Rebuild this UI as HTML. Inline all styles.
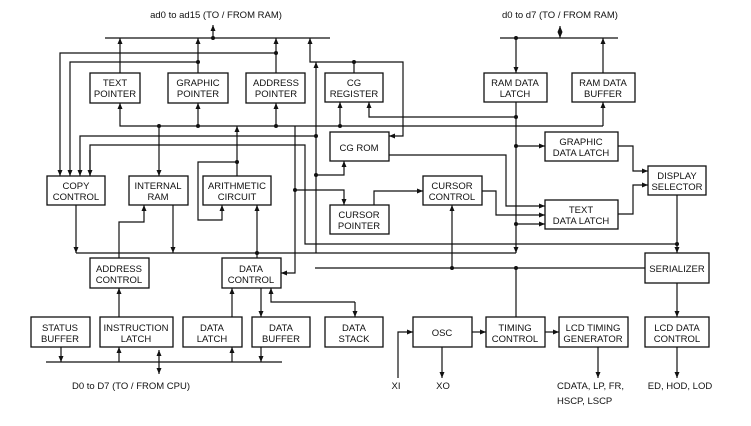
<!DOCTYPE html>
<html><head><meta charset="utf-8"><style>
html,body{margin:0;padding:0;background:#fff}
svg{display:block}
text{font-family:"Liberation Sans",sans-serif;font-size:9.5px;fill:#111;text-anchor:middle}
</style></head><body>
<svg width="751" height="426" viewBox="0 0 751 426" xmlns="http://www.w3.org/2000/svg">
<defs>
<marker id="a" viewBox="0 0 6 6" refX="6" refY="3" markerWidth="5" markerHeight="5" orient="auto-start-reverse"><path d="M0,0.5L6,3L0,5.5z" fill="#111"/></marker>
</defs>
<g fill="#fff" stroke="#111" stroke-width="1.3">
<rect x="90" y="73" width="50" height="30"/>
<rect x="168" y="73" width="60" height="30"/>
<rect x="246" y="73" width="59" height="30"/>
<rect x="325" y="73" width="58" height="29"/>
<rect x="330" y="132" width="59" height="29"/>
<rect x="47" y="176" width="58" height="29"/>
<rect x="129" y="176" width="59" height="29"/>
<rect x="203" y="176" width="68" height="29"/>
<rect x="330" y="205" width="59" height="29"/>
<rect x="423" y="176" width="59" height="29"/>
<rect x="484" y="73" width="63" height="29"/>
<rect x="572" y="73" width="63" height="29"/>
<rect x="545" y="132" width="73" height="29"/>
<rect x="545" y="200" width="73" height="29"/>
<rect x="648" y="166" width="58" height="29"/>
<rect x="645" y="253" width="64" height="30"/>
<rect x="645" y="317" width="64" height="30"/>
<rect x="559" y="317" width="69" height="30"/>
<rect x="486" y="317" width="59" height="30"/>
<rect x="413" y="317" width="59" height="30"/>
<rect x="90" y="258" width="59" height="30"/>
<rect x="222" y="258" width="59" height="30"/>
<rect x="31" y="317" width="59" height="30"/>
<rect x="100" y="317" width="73" height="30"/>
<rect x="183" y="317" width="59" height="30"/>
<rect x="252" y="317" width="58" height="30"/>
<rect x="325" y="317" width="58" height="30"/>
</g>
<g fill="none" stroke="#111" stroke-width="1.2">
<!-- buses -->
<path d="M105 38H330M500 38H618M46 362H282"/>
<path d="M213 38V25" marker-end="url(#a)"/>
<path d="M560 26V38" marker-start="url(#a)" marker-end="url(#a)"/>
<path d="M159 350V374" marker-start="url(#a)" marker-end="url(#a)"/>
<!-- top pointers -->
<path d="M120 73V38" marker-end="url(#a)"/>
<path d="M198 73V38" marker-end="url(#a)"/>
<path d="M276 73V38" marker-end="url(#a)"/>
<path d="M198 62H70V176" marker-end="url(#a)"/>
<path d="M276 53H60V176" marker-end="url(#a)"/>
<path d="M310 38V62H403V136H389" marker-end="url(#a)" marker-start="url(#a)"/>
<path d="M354 62V73"/>
<path d="M316 253V62" marker-end="url(#a)"/>
<path d="M316 136H80V176" marker-end="url(#a)"/>
<path d="M316 175H344V161" marker-end="url(#a)"/>
<!-- y126 line -->
<path d="M603 126H120V103" marker-end="url(#a)"/>
<path d="M603 126V102" marker-end="url(#a)"/>
<path d="M198 103V126" marker-start="url(#a)"/>
<path d="M276 103V126" marker-start="url(#a)"/>
<path d="M340 102V126" marker-start="url(#a)"/>
<path d="M159 126V176" marker-end="url(#a)"/>
<path d="M237 162V126" marker-end="url(#a)"/>
<path d="M237 162V176"/>
<path d="M237 162H198V220H222V205" marker-end="url(#a)"/>
<path d="M516 117H369V102" marker-end="url(#a)"/>
<path d="M90 176V145H305V244H677"/>
<path d="M90 150V176" marker-end="url(#a)"/>
<path d="M295 126V273H281" marker-end="url(#a)"/>
<path d="M295 190H344V205" marker-end="url(#a)"/>
<!-- bus y253 -->
<path d="M76 253H516"/>
<path d="M76 205V253" marker-end="url(#a)"/>
<path d="M173 205V253" marker-end="url(#a)"/>
<path d="M257 205V253" marker-start="url(#a)"/>
<path d="M257 253V258"/>
<path d="M119 258V222H144V205" marker-end="url(#a)"/>
<path d="M119 317V288" marker-end="url(#a)"/>
<path d="M232 317V288" marker-end="url(#a)"/>
<path d="M261 288V317" marker-end="url(#a)"/>
<path d="M355 302H271V288" marker-end="url(#a)"/>
<path d="M355 302V317" marker-end="url(#a)"/>
<path d="M61 347V362" marker-end="url(#a)"/>
<path d="M119 362V347" marker-end="url(#a)"/>
<path d="M232 362V347" marker-end="url(#a)"/>
<path d="M261 347V362" marker-end="url(#a)"/>
<!-- right side -->
<path d="M516 38V73" marker-end="url(#a)"/>
<path d="M516 102V253" marker-end="url(#a)"/>
<path d="M516 146H545" marker-end="url(#a)"/>
<path d="M516 224H545" marker-end="url(#a)"/>
<path d="M389 155H506V206H545" marker-end="url(#a)"/>
<path d="M482 191H496V215H545" marker-end="url(#a)"/>
<path d="M374 205V191H423" marker-end="url(#a)"/>
<path d="M618 146H633V171H648" marker-end="url(#a)"/>
<path d="M618 214H633V185H648" marker-end="url(#a)"/>
<path d="M677 195V253" marker-end="url(#a)"/>
<path d="M603 73V38" marker-end="url(#a)"/>
<path d="M315 268H645"/>
<path d="M452 268V205" marker-end="url(#a)"/>
<path d="M516 268V317"/>
<path d="M677 283V317" marker-end="url(#a)"/>
<path d="M677 347V378" marker-end="url(#a)"/>
<path d="M598 347V378" marker-end="url(#a)"/>
<path d="M398 378V332H413" marker-end="url(#a)"/>
<path d="M442 347V378" marker-end="url(#a)"/>
<path d="M472 332H486" marker-end="url(#a)"/>
<path d="M545 332H559" marker-end="url(#a)"/>
</g>
<g fill="#111">
<circle cx="213" cy="38" r="2"/><circle cx="516" cy="38" r="2"/>
<circle cx="198" cy="62" r="2"/><circle cx="276" cy="53" r="2"/><circle cx="354" cy="62" r="2"/>
<circle cx="159" cy="126" r="2"/><circle cx="198" cy="126" r="2"/><circle cx="276" cy="126" r="2"/><circle cx="340" cy="126" r="2"/>
<circle cx="237" cy="162" r="2"/><circle cx="316" cy="136" r="2"/><circle cx="316" cy="175" r="2"/><circle cx="295" cy="190" r="2"/>
<circle cx="516" cy="117" r="2"/><circle cx="516" cy="146" r="2"/><circle cx="516" cy="224" r="2"/>
<circle cx="257" cy="253" r="2"/><circle cx="677" cy="244" r="2"/>
<circle cx="452" cy="268" r="2"/><circle cx="516" cy="268" r="2"/>
</g>
<g>
<text x="216" y="18">ad0 to ad15 (TO / FROM RAM)</text>
<text x="560" y="18">d0 to d7 (TO / FROM RAM)</text>
<text x="131" y="389">D0 to D7 (TO / FROM CPU)</text>
<text x="115" y="86">TEXT</text><text x="115" y="97">POINTER</text>
<text x="198" y="86">GRAPHIC</text><text x="198" y="97">POINTER</text>
<text x="276" y="86">ADDRESS</text><text x="276" y="97">POINTER</text>
<text x="354" y="86">CG</text><text x="354" y="97">REGISTER</text>
<text x="359" y="151">CG ROM</text>
<text x="76" y="189">COPY</text><text x="76" y="200">CONTROL</text>
<text x="158" y="189">INTERNAL</text><text x="158" y="200">RAM</text>
<text x="237" y="189">ARITHMETIC</text><text x="237" y="200">CIRCUIT</text>
<text x="359" y="218">CURSOR</text><text x="359" y="229">POINTER</text>
<text x="452" y="189">CURSOR</text><text x="452" y="200">CONTROL</text>
<text x="515" y="86">RAM DATA</text><text x="515" y="97">LATCH</text>
<text x="603" y="86">RAM DATA</text><text x="603" y="97">BUFFER</text>
<text x="581" y="145">GRAPHIC</text><text x="581" y="156">DATA LATCH</text>
<text x="581" y="213">TEXT</text><text x="581" y="224">DATA LATCH</text>
<text x="677" y="179">DISPLAY</text><text x="677" y="190">SELECTOR</text>
<text x="677" y="272">SERIALIZER</text>
<text x="677" y="331">LCD DATA</text><text x="677" y="342">CONTROL</text>
<text x="593" y="331">LCD TIMING</text><text x="593" y="342">GENERATOR</text>
<text x="515" y="331">TIMING</text><text x="515" y="342">CONTROL</text>
<text x="442" y="336">OSC</text>
<text x="119" y="272">ADDRESS</text><text x="119" y="283">CONTROL</text>
<text x="251" y="272">DATA</text><text x="251" y="283">CONTROL</text>
<text x="60" y="331">STATUS</text><text x="60" y="342">BUFFER</text>
<text x="136" y="331">INSTRUCTION</text><text x="136" y="342">LATCH</text>
<text x="212" y="331">DATA</text><text x="212" y="342">LATCH</text>
<text x="281" y="331">DATA</text><text x="281" y="342">BUFFER</text>
<text x="354" y="331">DATA</text><text x="354" y="342">STACK</text>
<text x="396" y="389">XI</text>
<text x="443" y="389">XO</text>
<text x="557" y="389" style="text-anchor:start">CDATA, LP, FR,</text>
<text x="557" y="404" style="text-anchor:start">HSCP, LSCP</text>
<text x="680" y="389">ED, HOD, LOD</text>
</g>
</svg>
</body></html>
